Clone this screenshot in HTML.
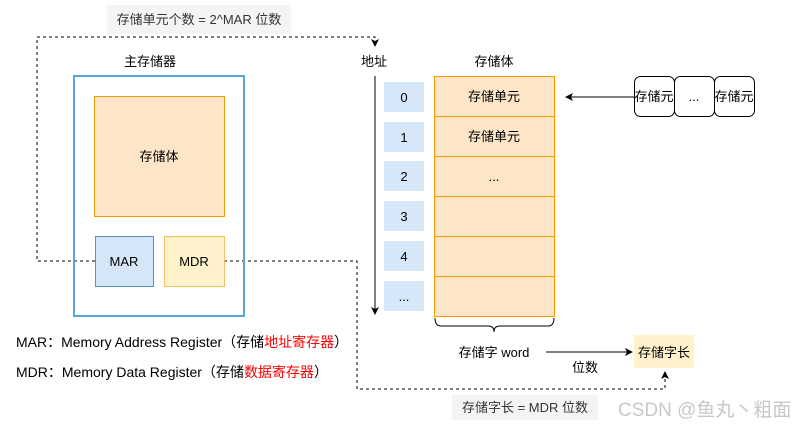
<!DOCTYPE html>
<html><head><meta charset="utf-8"><style>
body{margin:0;background:#fff}
svg text{font-family:"Liberation Sans","Noto Sans CJK SC",sans-serif;font-size:13px;fill:#000}
</style></head><body>
<svg width="805" height="428" viewBox="0 0 805 428" xmlns="http://www.w3.org/2000/svg">
<defs><marker id="a" markerWidth="8" markerHeight="8" refX="7" refY="4" orient="auto" markerUnits="userSpaceOnUse"><path d="M0,0L8,4L0,8L2,4z" fill="#000"/></marker></defs>
<rect x="107" y="5" width="184" height="29" fill="#f5f4f2"/>
<text x="199" y="24" text-anchor="middle" style="font-size:13px;fill:#333">存储单元个数 = 2^MAR 位数</text>
<path d="M95,261H37V37H375V46" fill="none" stroke="#000" stroke-dasharray="3,3" marker-end="url(#a)"/>
<path d="M224,261H357V389H665V372" fill="none" stroke="#000" stroke-dasharray="3,3" marker-end="url(#a)"/>
<text x="150" y="66" text-anchor="middle">主存储器</text>
<rect x="74" y="76" width="170" height="240" fill="none" stroke="#5aa5dc" stroke-width="2"/>
<rect x="94.5" y="96.5" width="130" height="120" fill="#fde5c7" stroke="#f59b00"/>
<text x="159" y="161" text-anchor="middle">存储体</text>
<rect x="95.5" y="236.5" width="58" height="50" fill="#d5e6f8" stroke="#5292c8"/>
<text x="124" y="266" text-anchor="middle">MAR</text>
<rect x="164.5" y="236.5" width="60" height="50" fill="#fff1c9" stroke="#f3c160"/>
<text x="194" y="266" text-anchor="middle">MDR</text>
<text x="374" y="66" text-anchor="middle">地址</text>
<text x="494" y="66" text-anchor="middle">存储体</text>
<line x1="375" y1="76" x2="375" y2="314" stroke="#000" marker-end="url(#a)"/>
<g fill="#d5e7f9">
<rect x="384" y="82" width="40" height="30"/><rect x="384" y="122" width="40" height="30"/><rect x="384" y="161" width="40" height="30"/><rect x="384" y="201" width="40" height="30"/><rect x="384" y="241" width="40" height="30"/><rect x="384" y="281" width="40" height="30"/></g>
<text x="404" y="102" text-anchor="middle">0</text><text x="404" y="142" text-anchor="middle">1</text><text x="404" y="181" text-anchor="middle">2</text><text x="404" y="221" text-anchor="middle">3</text><text x="404" y="261" text-anchor="middle">4</text><text x="404" y="301" text-anchor="middle">...</text>
<g fill="#fde5c7" stroke="#f59b00">
<rect x="434.5" y="76.5" width="120" height="40"/><rect x="434.5" y="116.5" width="120" height="40"/><rect x="434.5" y="156.5" width="120" height="40"/><rect x="434.5" y="196.5" width="120" height="40"/><rect x="434.5" y="236.5" width="120" height="40"/><rect x="434.5" y="276.5" width="120" height="40"/></g>
<text x="494" y="101" text-anchor="middle">存储单元</text><text x="494" y="141" text-anchor="middle">存储单元</text><text x="494" y="181" text-anchor="middle">...</text>
<path d="M435,318q0,8 6,8H488q6,0 6,6q0,-6 6,-6H548q6,0 6,-8" fill="none" stroke="#000"/>
<g fill="#fff" stroke="#000"><rect x="634.5" y="76.5" width="40" height="40" rx="6"/><rect x="674.5" y="76.5" width="40" height="40" rx="6"/><rect x="714.5" y="76.5" width="40" height="40" rx="6"/></g>
<text x="654" y="101" text-anchor="middle">存储元</text><text x="694" y="101" text-anchor="middle">...</text><text x="734" y="101" text-anchor="middle">存储元</text>
<line x1="634" y1="97" x2="566" y2="97" stroke="#000" marker-end="url(#a)"/>
<text x="494" y="357" text-anchor="middle">存储字 word</text>
<line x1="546" y1="352" x2="632" y2="352" stroke="#000" marker-end="url(#a)"/>
<text x="585" y="372" text-anchor="middle">位数</text>
<rect x="634" y="335" width="60" height="33" fill="#fff2cc"/>
<text x="664" y="357" text-anchor="middle">存储字长</text>
<rect x="452" y="395" width="146" height="25" fill="#f5f4f2"/>
<text x="525" y="412" text-anchor="middle" style="font-size:13px;fill:#333">存储字长 = MDR 位数</text>
<text x="16" y="347" style="font-size:14px">MAR：Memory Address Register（存储<tspan style="fill:#f00">地址寄存器</tspan>）</text>
<text x="16" y="377" style="font-size:14px">MDR：Memory Data Register（存储<tspan style="fill:#f00">数据寄存器</tspan>）</text>
<text x="618" y="416" style="font-size:19px;fill:#c8c8c8">CSDN @鱼丸丶粗面</text>
</svg>
</body></html>
